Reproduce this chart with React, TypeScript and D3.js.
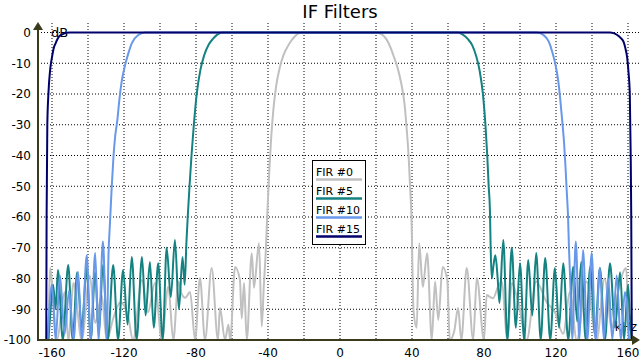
import React from "react";
import * as d3 from "d3";

const W = 640;
const H = 360;

const title = "IF Filters";
const xTicks = [-160, -120, -80, -40, 0, 40, 80, 120, 160];
const xGrid = [-160, -140, -120, -100, -80, -60, -40, -20, 0, 20, 40, 60, 80, 100, 120, 140, 160];
const yTicks = [0, -10, -20, -30, -40, -50, -60, -70, -80, -90, -100];
const yGrid = [0, -10, -20, -30, -40, -50, -60, -70, -80, -90];

const seriesNames = ["FIR #0", "FIR #5", "FIR #10", "FIR #15"];
const seriesColors = ["#c0c0c0", "#158282", "#6898ea", "#00006a"];

// [kHz, dB]
const fir0: [number, number][] = [
  [-162, -100], [-161, -76.6], [-159.5, -85], [-157.4, -100], [-152.8, -84.4], [-151, -100],
  [-148, -81.5], [-143.5, -100], [-139, -79], [-136, -94.5], [-132.4, -85.4], [-129.6, -100],
  [-126, -93], [-122, -87.7], [-117.8, -92], [-115, -100], [-110, -80.5], [-106.7, -91],
  [-102.8, -81.5], [-99, -100], [-95.4, -82.7], [-92.6, -100], [-89.8, -81], [-88, -85],
  [-86, -86.3], [-83.3, -84.4], [-80.5, -100], [-77.8, -79.8], [-75, -100], [-71.3, -76.6],
  [-67.8, -100], [-66.7, -89.6], [-63.9, -100], [-62, -95], [-61, -100], [-58.3, -76.3],
  [-55.6, -80.5], [-54.6, -93], [-53.3, -81.5], [-51.8, -100], [-49, -71.8], [-47.8, -83],
  [-45, -68.5], [-43.5, -95.6], [-42.3, -82], [-41.3, -72], [-40.6, -62], [-40, -54],
  [-39.2, -44], [-38.2, -34], [-37, -25], [-35.5, -17.5], [-33.5, -11.5], [-31.5, -7.5],
  [-29, -4.5], [-27, -2.6], [-25, -1.2], [-23, -0.3], [-20.5, 0],
  [19.6, 0], [22, -0.3], [24, -1], [26, -2.4], [28, -4.8], [30, -8], [32, -11.5], [34, -16.5],
  [35.8, -23], [37, -31], [38.2, -41], [39.1, -52], [39.8, -62], [40.2, -75], [40.8, -90],
  [42.6, -96], [44, -68.5], [46, -82.7], [48.4, -71.8], [51, -100], [52.8, -81], [54.6, -93.5],
  [57, -76.3], [59.6, -80.5], [61, -100], [63.5, -97], [65.6, -89.6], [67.4, -100], [70.4, -76.6],
  [74, -100], [76, -79.8], [80, -100], [81.5, -85.4], [83.3, -86], [85, -86.4], [87.8, -82.7],
  [89.8, -81], [93, -100], [95.4, -81.5], [99, -87.6], [103.7, -100], [109, -81], [114.8, -87.7],
  [119.4, -91], [124, -98], [127.8, -84.4], [131.5, -100], [137, -81], [142.6, -100], [147, -80],
  [151, -96], [154.4, -84.4], [159, -76.6], [160.7, -100], [162, -100],
];

const fir5: [number, number][] = [
  [-162, -100], [-161, -92], [-159.4, -82], [-158, -90], [-156.7, -77.2], [-154, -100],
  [-151, -75.6], [-148.5, -100], [-146, -78], [-143.5, -96], [-140.7, -76.6], [-138.5, -100],
  [-136, -78], [-134, -98], [-131.7, -75.6], [-129, -100], [-126, -75.6], [-123.3, -100],
  [-120.5, -77.2], [-118, -95], [-115.7, -73], [-113, -100], [-110, -73], [-108, -92],
  [-105.6, -74.6], [-103.5, -96], [-101, -75], [-98.5, -100], [-96.3, -70], [-94, -86],
  [-91.7, -67.5], [-89.5, -90], [-87.5, -73], [-86.3, -82], [-85.3, -68], [-84.6, -60],
  [-83.6, -50], [-82.5, -40], [-81.2, -30], [-79.6, -20], [-77.5, -12], [-75.5, -7.5],
  [-73, -4], [-70.5, -2], [-68, -0.6], [-65.5, 0],
  [65.5, 0], [68, -0.6], [70.8, -2], [73.5, -4.2], [75.8, -8], [77.6, -12.5], [79.4, -20],
  [80.8, -30], [81.8, -40], [82.6, -50], [83.3, -58], [83.7, -70], [84.3, -80], [85.2, -76],
  [86.3, -72.4], [87.6, -80], [88.6, -88], [90.7, -67.5], [93, -100], [95.4, -70], [97.7, -96],
  [100, -75], [102.3, -100], [104.6, -74], [106.8, -92], [109, -71.7], [111.5, -100], [114, -73.3],
  [116.8, -100], [119.4, -76.6], [121.7, -96], [124, -75], [126.8, -100], [129.6, -76.2],
  [131.8, -94], [134, -74.6], [136.5, -100], [139, -76.2], [141.7, -98], [144.4, -76.6],
  [147.2, -100], [150, -75], [152.8, -96], [155.6, -78], [157.8, -100], [160, -82], [161, -92],
  [162, -100],
];

const fir10: [number, number][] = [
  [-162.5, -100], [-160, -82], [-158, -100], [-155.6, -79], [-153, -98], [-150.5, -84],
  [-148, -100], [-145.5, -77.9], [-143.5, -100], [-140.7, -72.4], [-138.5, -100], [-136, -71.7],
  [-134.2, -100], [-131.7, -68], [-129.6, -100], [-128.6, -72], [-127.8, -62], [-126.8, -50],
  [-125.8, -40], [-125, -34.3], [-123.7, -28.5], [-122.6, -22], [-121.3, -16], [-119.4, -10.6],
  [-117.6, -6.8], [-115.7, -3.5], [-112, -0.8], [-108.3, 0],
  [109.4, 0], [113, -0.8], [116, -3], [118, -6.5], [119.7, -10.5], [121.3, -16], [122.4, -22],
  [123.5, -29], [124.5, -36], [125.3, -44], [126, -52], [126.7, -60], [127.2, -70], [128, -82],
  [129, -100], [131, -68], [133, -100], [135, -70.7], [137.4, -100], [139.8, -71.7], [142, -100],
  [144.4, -76.6], [146.6, -100], [149, -80], [151.3, -100], [153.7, -79], [156, -100],
  [158.3, -84.4], [160.5, -100],
];

const fir15: [number, number][] = [
  [-163.2, -100], [-163, -60], [-162.6, -30], [-162, -20], [-161, -12], [-160, -8], [-159, -5],
  [-158, -3.5], [-157, -2.2], [-156, -1.3], [-154, -0.5], [-152, -0.1], [-150, 0],
  [150, 0], [152, -0.2], [154, -0.8], [156, -1.8], [157.5, -3], [158.5, -5], [159.5, -8],
  [160.3, -13], [161, -20], [161.5, -40], [161.8, -60], [162.1, -100],
];

const seriesData = [fir0, fir5, fir10, fir15];

const x = d3.scaleLinear().domain([-160, 160]).range([52, 628]);
const y = d3.scaleLinear().domain([0, -100]).range([32.5, 340]);

const AXIS = "#3a3a1c";
const FONT = "DejaVu Sans, Verdana, sans-serif";

export default function App() {
  const line = d3
    .line<[number, number]>()
    .x((d) => x(d[0]))
    .y((d) => y(Math.max(-100, d[1])))
    .curve(d3.curveMonotoneX);

  const left = 38;
  const right = 640;
  const bottom = y(-100);

  return (
    <svg width={W} height={H} style={{ position: "absolute", left: 0, top: 0, background: "#fff" }}>
      <rect x={0} y={0} width={W} height={H} fill="#fff" />
      <defs>
        <clipPath id="plot">
          <rect x={left} y={20} width={right - left} height={bottom - 20} />
        </clipPath>
      </defs>
      <text x={340} y={18} textAnchor="middle" fontFamily={FONT} fontSize={18} fill="#000">
        {title}
      </text>
      {/* grid */}
      {xGrid.map((v) => (
        <line key={"gx" + v} x1={x(v)} x2={x(v)} y1={23} y2={bottom} stroke="#000" strokeWidth={1} strokeDasharray="1,2" />
      ))}
      {yGrid.map((v) => (
        <line key={"gy" + v} x1={left} x2={right} y1={y(v)} y2={y(v)} stroke="#000" strokeWidth={1} strokeDasharray="1,2" />
      ))}
      {/* axis titles */}
      <text x={51} y={37} fontFamily={FONT} fontSize={13} fill="#000">dB</text>
      <text x={637} y={331} textAnchor="end" fontFamily={FONT} fontSize={12} fill="#000">kHz</text>
      {/* series */}
      <g clipPath="url(#plot)">
        {seriesData.map((s, i) => (
          <path key={i} d={line(s) || ""} fill="none" stroke={seriesColors[i]} strokeWidth={2} strokeLinejoin="round" />
        ))}
      </g>
      {/* axes */}
      <line x1={left} x2={left} y1={bottom + 1} y2={28} stroke={AXIS} strokeWidth={2} />
      <path d={`M${left},22 L${left - 5},30 L${left + 5},30 Z`} fill={AXIS} />
      <line x1={left - 1} x2={634} y1={bottom} y2={bottom} stroke={AXIS} strokeWidth={2} />
      <path d={`M640,${bottom} L632,${bottom - 5} L632,${bottom + 5} Z`} fill={AXIS} />
      {yTicks.map((v) => (
        <text key={"yt" + v} x={31} y={y(v)} dy="0.36em" textAnchor="end" fontFamily={FONT} fontSize={12} fill="#000">
          {String(v)}
        </text>
      ))}
      {xTicks.map((v) => (
        <text key={"xt" + v} x={x(v)} y={357} textAnchor="middle" fontFamily={FONT} fontSize={12} fill="#000">
          {String(v)}
        </text>
      ))}
      {/* legend */}
      <rect x={312.5} y={160.5} width={53} height={84} fill="#fff" stroke="#000" strokeWidth={1} />
      {seriesNames.map((n, i) => (
        <g key={n}>
          <text x={316} y={176 + i * 19} fontFamily={FONT} fontSize={11} fill="#000">{n}</text>
          <line x1={316} x2={362} y1={179.5 + i * 19} y2={179.5 + i * 19} stroke={seriesColors[i]} strokeWidth={2.5} />
        </g>
      ))}
    </svg>
  );
}
